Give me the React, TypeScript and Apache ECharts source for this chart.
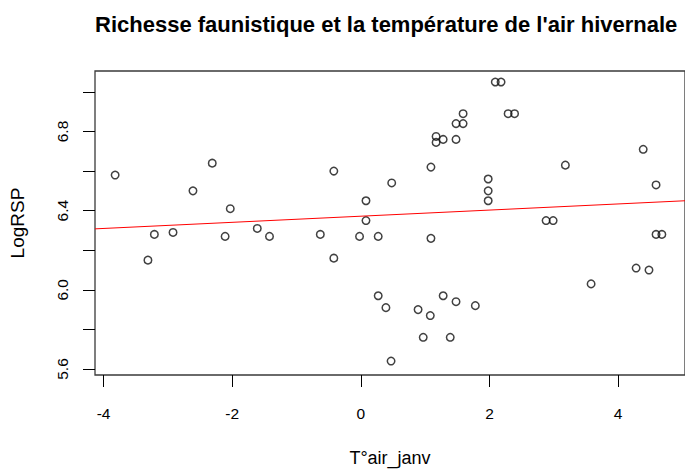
import React, { useEffect, useRef } from "react";
import * as echarts from "echarts";

// Scatter data: winter air temperature (T°air_janv) vs LogRSP
const tempJanv: number[] = [
  -3.82, -3.31, -3.21, -2.92, -2.61, -2.31, -2.11, -2.03, -1.61, -1.42,
  -0.63, -0.42, -0.42, -0.02, 0.08, 0.08, 0.27, 0.27, 0.39, 0.48,
  0.47, 0.89, 0.97, 1.09, 1.09, 1.08, 1.17, 1.17, 1.28, 1.28,
  1.39, 1.48, 1.48, 1.48, 1.59, 1.59, 1.78, 2.09, 2.18, 2.29,
  2.39, 1.98, 1.98, 1.98, 3.18, 2.88, 2.99, 3.58, 4.28, 4.48,
  4.39, 4.59, 4.59, 4.68,
];
const logRSP: number[] = [
  6.58, 6.15, 6.28, 6.29, 6.5, 6.64, 6.27, 6.41, 6.31, 6.27,
  6.28, 6.6, 6.16, 6.27, 6.45, 6.35, 6.27, 5.97, 5.91, 6.54,
  5.64, 5.9, 5.76, 6.62, 6.26, 5.87, 6.775, 6.745, 6.76, 5.97,
  5.76, 6.76, 6.84, 5.94, 6.84, 6.89, 5.92, 7.05, 7.05, 6.89,
  6.89, 6.56, 6.5, 6.45, 6.63, 6.35, 6.35, 6.03, 6.11, 6.1,
  6.71, 6.53, 6.28, 6.28,
];

// Regression line end points
const fitX: number[] = [-4.133, 5.04];
const fitY: number[] = [6.308, 6.45];

const xTicks: number[] = [-4, -2, 0, 2, 4];
const yTicks: number[] = [5.6, 5.8, 6.0, 6.2, 6.4, 6.6, 6.8, 7.0];
const yTickLabels: number[] = [5.6, 6.0, 6.4, 6.8];

const titleText = "Richesse faunistique et la température de l'air hivernale";
const xName = "T°air_janv";
const yName = "LogRSP";

const FONT = "'Liberation Sans', Arial, sans-serif";

export default function App() {
  const ref = useRef<HTMLDivElement>(null);
  useEffect(() => {
    if (!ref.current) return;
    const chart = echarts.init(ref.current, null, { renderer: "svg" });
    const points = tempJanv.map((x, i) => [x, logRSP[i]]);
    const fit = fitX.map((x, i) => [x, fitY[i]]);
    chart.setOption({
      animation: false,
      backgroundColor: "#ffffff",
      title: {
        text: titleText,
        left: 95,
        top: 13,
        padding: 0,
        textStyle: { fontFamily: FONT, fontWeight: "bold", fontSize: 22, color: "#000" },
      },
      grid: {
        left: 95,
        top: 71,
        right: -3,
        bottom: 93,
        show: true,
        borderColor: "#3a3a3a",
        borderWidth: 1.3,
        containLabel: false,
      },
      xAxis: {
        type: "value",
        min: -4.133,
        max: 5.04,
        name: xName,
        nameLocation: "middle",
        nameGap: 74,
        nameTextStyle: { fontFamily: FONT, fontSize: 18, color: "#000" },
        splitLine: { show: false },
        axisLine: { show: false, onZero: false },
        axisTick: {
          show: true,
          length: 12,
          customValues: xTicks,
          lineStyle: { color: "#000", width: 1 },
        },
        axisLabel: {
          show: true,
          customValues: xTicks,
          margin: 30,
          fontFamily: FONT,
          fontSize: 15.5,
          color: "#000",
          showMinLabel: true,
          showMaxLabel: true,
        },
      },
      yAxis: {
        type: "value",
        min: 5.5696,
        max: 7.1057,
        name: yName,
        nameLocation: "middle",
        nameGap: 68,
        nameTextStyle: { fontFamily: FONT, fontSize: 19, color: "#000" },
        splitLine: { show: false },
        axisLine: { show: false, onZero: false },
        axisTick: {
          show: true,
          length: 12,
          customValues: yTicks,
          lineStyle: { color: "#000", width: 1 },
        },
        axisLabel: {
          show: true,
          customValues: yTickLabels,
          rotate: 90,
          margin: 25,
          fontFamily: FONT,
          fontSize: 15.5,
          color: "#000",
          formatter: (v: number) => v.toFixed(1),
        },
      },
      series: [
        {
          type: "scatter",
          data: points,
          symbol: "circle",
          symbolSize: 7.5,
          itemStyle: { color: "rgba(0,0,0,0)", borderColor: "#111", borderWidth: 1.5 },
          z: 3,
        },
        {
          type: "line",
          data: fit,
          showSymbol: false,
          symbol: "none",
          lineStyle: { color: "#ff0000", width: 1 },
          z: 4,
        },
      ],
    });
    return () => chart.dispose();
  }, []);
  return (
    <div
      ref={ref}
      style={{ position: "fixed", left: 0, top: 0, width: 685, height: 472 }}
    />
  );
}
